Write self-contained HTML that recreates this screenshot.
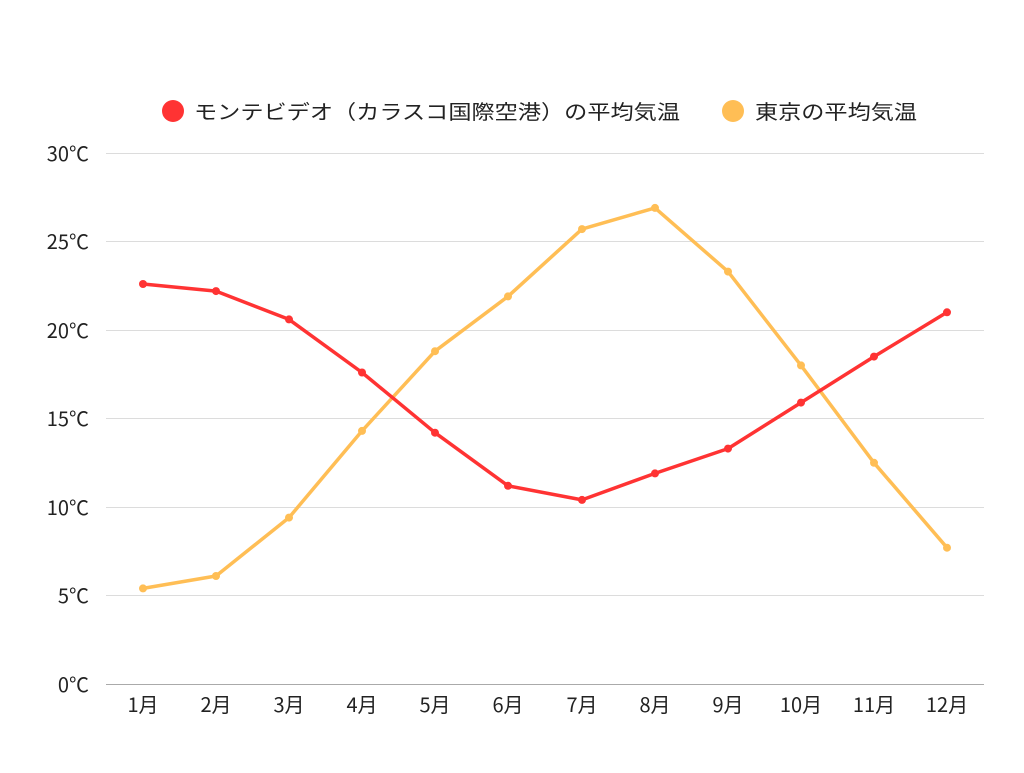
<!DOCTYPE html>
<html><head><meta charset="utf-8"><style>
body{margin:0;background:#fff;}
svg text{font-family:"Noto Sans CJK JP","Liberation Sans",sans-serif;fill:#222;}
</style></head><body>
<svg width="1024" height="768" xmlns="http://www.w3.org/2000/svg">
<g stroke="#dcdcdc" stroke-width="1">
<line x1="106" x2="984" y1="153.5" y2="153.5"/>
<line x1="106" x2="984" y1="241.5" y2="241.5"/>
<line x1="106" x2="984" y1="330.5" y2="330.5"/>
<line x1="106" x2="984" y1="418.5" y2="418.5"/>
<line x1="106" x2="984" y1="507.5" y2="507.5"/>
<line x1="106" x2="984" y1="595.5" y2="595.5"/>
</g>
<line x1="106" x2="984" y1="684.5" y2="684.5" stroke="#aaa" stroke-width="1"/>
<g font-size="20" text-anchor="end">
<text x="89" y="161">30℃</text>
<text x="89" y="249">25℃</text>
<text x="89" y="338">20℃</text>
<text x="89" y="426">15℃</text>
<text x="89" y="515">10℃</text>
<text x="89" y="603">5℃</text>
<text x="89" y="692">0℃</text>
</g>
<g font-size="20" text-anchor="middle">
<text x="143" y="712">1月</text><text x="216" y="712">2月</text><text x="289" y="712">3月</text><text x="362" y="712">4月</text><text x="435" y="712">5月</text><text x="508" y="712">6月</text><text x="582" y="712">7月</text><text x="655" y="712">8月</text><text x="728" y="712">9月</text><text x="801" y="712">10月</text><text x="874" y="712">11月</text><text x="947" y="712">12月</text>
</g>
<polyline fill="none" stroke="#ffbe55" stroke-width="3.5" stroke-linejoin="round" points="143,588.4 216,576.0 289,517.6 362,430.9 435,351.2 508,296.4 582,229.1 655,207.9 728,271.6 801,365.4 874,462.8 947,547.7"/>
<g fill="#ffbe55">
<circle cx="143" cy="588.4" r="4"/><circle cx="216" cy="576" r="4"/><circle cx="289" cy="517.6" r="4"/><circle cx="362" cy="430.9" r="4"/><circle cx="435" cy="351.2" r="4"/><circle cx="508" cy="296.4" r="4"/><circle cx="582" cy="229.1" r="4"/><circle cx="655" cy="207.9" r="4"/><circle cx="728" cy="271.6" r="4"/><circle cx="801" cy="365.4" r="4"/><circle cx="874" cy="462.8" r="4"/><circle cx="947" cy="547.7" r="4"/>
</g>
<polyline fill="none" stroke="#ff3333" stroke-width="3.5" stroke-linejoin="round" points="143,284 216,291.1 289,319.4 362,372.5 435,432.7 508,485.8 582,499.9 655,473.4 728,448.6 801,402.6 874,356.6 947,312.3"/>
<g fill="#ff3333">
<circle cx="143" cy="284" r="4"/><circle cx="216" cy="291.1" r="4"/><circle cx="289" cy="319.4" r="4"/><circle cx="362" cy="372.5" r="4"/><circle cx="435" cy="432.7" r="4"/><circle cx="508" cy="485.8" r="4"/><circle cx="582" cy="499.9" r="4"/><circle cx="655" cy="473.4" r="4"/><circle cx="728" cy="448.6" r="4"/><circle cx="801" cy="402.6" r="4"/><circle cx="874" cy="356.6" r="4"/><circle cx="947" cy="312.3" r="4"/>
</g>
<circle cx="173" cy="111" r="11" fill="#ff3333"/>
<text x="194" y="119" font-size="20" textLength="486" lengthAdjust="spacingAndGlyphs">モンテビデオ（カラスコ国際空港）の平均気温</text>
<circle cx="733" cy="111" r="11" fill="#ffbe55"/>
<text x="755" y="119" font-size="20" textLength="162" lengthAdjust="spacingAndGlyphs">東京の平均気温</text>
</svg>
</body></html>
